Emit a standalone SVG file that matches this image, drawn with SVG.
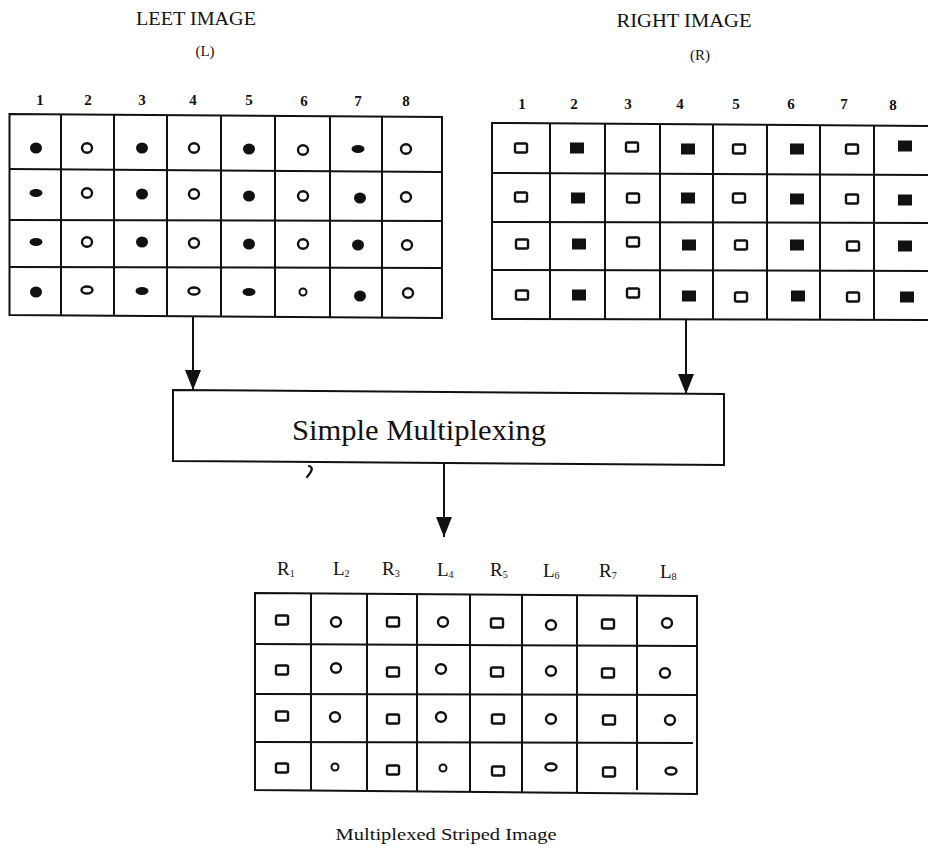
<svg xmlns="http://www.w3.org/2000/svg" xmlns:xlink="http://www.w3.org/1999/xlink" width="928" height="849" viewBox="0 0 928 849">
  <style>
    .title { font-family: "Liberation Serif", "Times New Roman", serif; fill: #111; }
    .num { font-family: "Liberation Serif", serif; font-weight: bold; font-size: 15px; fill: #111; text-anchor: middle; }
    .grid { fill: none; stroke: #111; stroke-width: 2; }
    .conn { stroke: #111; stroke-width: 2; fill: none; }
    .lab { font-family: "Liberation Serif", serif; font-size: 19px; fill: #111; }
    .sub { font-size: 10px; }
  </style>
  <defs>
    <!-- cell symbols -->
    <ellipse id="dot" cx="0" cy="0" rx="6" ry="5.5" fill="#111"/>
    <ellipse id="dotFlat" cx="0" cy="0" rx="6.5" ry="4" fill="#111"/>
    <ellipse id="ring" cx="0" cy="0" rx="5" ry="4.8" fill="none" stroke="#111" stroke-width="2.4"/>
    <ellipse id="ringFlat" cx="0" cy="0" rx="5.5" ry="3.5" fill="none" stroke="#111" stroke-width="2.4"/>
    <ellipse id="ringSmall" cx="0" cy="0" rx="3.5" ry="3.5" fill="none" stroke="#111" stroke-width="2"/>
    <rect id="box" x="-6" y="-4.5" width="12" height="9" rx="1.5" fill="none" stroke="#111" stroke-width="2.4"/>
    <rect id="block" x="-7" y="-5.5" width="14" height="11" fill="#111"/>
    <marker id="arrow" markerWidth="20" markerHeight="16" refX="20" refY="8" orient="auto" markerUnits="userSpaceOnUse" viewBox="0 0 20 16">
      <path d="M0,0 L20,8 L0,16 Z" fill="#111"/>
    </marker>
  </defs>

  <!-- Left image -->
  <g id="left-image">
    <text class="title" x="196" y="25" font-size="18" text-anchor="middle" textLength="120" lengthAdjust="spacingAndGlyphs">LEET IMAGE</text>
    <text class="title" x="205" y="56" font-size="15" text-anchor="middle">(L)</text>
    <g>
      <text class="num" x="40" y="105">1</text>
      <text class="num" x="88" y="105">2</text>
      <text class="num" x="142" y="105">3</text>
      <text class="num" x="193" y="105">4</text>
      <text class="num" x="249" y="105">5</text>
      <text class="num" x="304" y="106">6</text>
      <text class="num" x="358" y="106">7</text>
      <text class="num" x="406" y="106">8</text>
    </g>
    <path class="grid" d="M9.5,114 L442,117 L442,318 L9.5,315 Z"/>
    <path class="grid" d="M9.5,169 L442,172 M9.5,220 L442,221 M9.5,267 L442,268"/>
    <path class="grid" d="M61,114 V315 M114,115 V315 M167,115 V316 M221,116 V316 M275,116 V316 M330,117 V317 M382,117 V317"/>
    <use href="#dot" x="36" y="148"/>
    <use href="#ring" x="87" y="148"/>
    <use href="#dot" x="142" y="148"/>
    <use href="#ring" x="194" y="148"/>
    <use href="#dot" x="249" y="149"/>
    <use href="#ring" x="303" y="150"/>
    <use href="#dotFlat" x="358" y="149"/>
    <use href="#ring" x="406" y="149"/>

    <use href="#dotFlat" x="36" y="193"/>
    <use href="#ring" x="87" y="193"/>
    <use href="#dot" x="142" y="194"/>
    <use href="#ring" x="194" y="194"/>
    <use href="#dot" x="249" y="196"/>
    <use href="#ring" x="303" y="196"/>
    <use href="#dot" x="360" y="198"/>
    <use href="#ring" x="406" y="197"/>

    <use href="#dotFlat" x="36" y="242"/>
    <use href="#ring" x="87" y="242"/>
    <use href="#dot" x="142" y="242"/>
    <use href="#ring" x="194" y="243"/>
    <use href="#dot" x="249" y="244"/>
    <use href="#ring" x="303" y="244"/>
    <use href="#dot" x="358" y="245"/>
    <use href="#ring" x="407" y="245"/>

    <use href="#dot" x="36" y="292"/>
    <use href="#ringFlat" x="87" y="290"/>
    <use href="#dotFlat" x="142" y="291"/>
    <use href="#ringFlat" x="194" y="291"/>
    <use href="#dotFlat" x="249" y="292"/>
    <use href="#ringSmall" x="303" y="292"/>
    <use href="#dot" x="360" y="296"/>
    <use href="#ring" x="408" y="293"/>
  </g>

  <!-- Right image -->
  <g id="right-image">
    <text class="title" x="684" y="27" font-size="18" text-anchor="middle" textLength="135" lengthAdjust="spacingAndGlyphs">RIGHT IMAGE</text>
    <text class="title" x="700" y="60" font-size="15" text-anchor="middle">(R)</text>
    <g>
      <text class="num" x="522" y="109">1</text>
      <text class="num" x="574" y="109">2</text>
      <text class="num" x="628" y="109">3</text>
      <text class="num" x="680" y="109">4</text>
      <text class="num" x="736" y="109">5</text>
      <text class="num" x="791" y="109">6</text>
      <text class="num" x="844" y="109">7</text>
      <text class="num" x="893" y="110">8</text>
    </g>
    <path class="grid" d="M935,126 L492,123 L492,319 L935,320"/>
    <path class="grid" d="M492,173 L935,175 M492,222 L935,223 M492,270 L935,271"/>
    <path class="grid" d="M550,123 V319 M605,123 V319 M660,124 V319 M713,124 V319 M767,125 V320 M820,125 V320 M874,126 V320"/>
    <use href="#box" x="521" y="148"/>
    <use href="#block" x="577" y="148"/>
    <use href="#box" x="632" y="147"/>
    <use href="#block" x="688" y="149"/>
    <use href="#box" x="739" y="149"/>
    <use href="#block" x="797" y="149"/>
    <use href="#box" x="852" y="149"/>
    <use href="#block" x="905" y="146"/>

    <use href="#box" x="521" y="197"/>
    <use href="#block" x="578" y="198"/>
    <use href="#box" x="633" y="198"/>
    <use href="#block" x="688" y="198"/>
    <use href="#box" x="739" y="198"/>
    <use href="#block" x="797" y="199"/>
    <use href="#box" x="852" y="199"/>
    <use href="#block" x="905" y="200"/>

    <use href="#box" x="522" y="244"/>
    <use href="#block" x="579" y="244"/>
    <use href="#box" x="633" y="242"/>
    <use href="#block" x="689" y="245"/>
    <use href="#box" x="741" y="245"/>
    <use href="#block" x="797" y="245"/>
    <use href="#box" x="853" y="246"/>
    <use href="#block" x="905" y="246"/>

    <use href="#box" x="522" y="295"/>
    <use href="#block" x="579" y="295"/>
    <use href="#box" x="633" y="293"/>
    <use href="#block" x="689" y="296"/>
    <use href="#box" x="741" y="297"/>
    <use href="#block" x="798" y="296"/>
    <use href="#box" x="853" y="297"/>
    <use href="#block" x="907" y="297"/>
  </g>

  <!-- Multiplexer block -->
  <g id="multiplexer">
    <path class="grid" d="M173,390 L724,394 L724,465 L173,461 Z"/>
    <text class="title" x="419" y="440" font-size="30" text-anchor="middle" textLength="254" lengthAdjust="spacingAndGlyphs">Simple Multiplexing</text>
    <!-- small ink mark below the block -->
    <path d="M309,466 C313,467 313,470 307,477" fill="none" stroke="#111" stroke-width="2.2" stroke-linecap="round"/>
  </g>

  <!-- Striped output image -->
  <g id="striped-image">
    <g class="lab">
      <text x="277" y="575">R<tspan class="sub" dy="2">1</tspan></text>
      <text x="333" y="575">L<tspan class="sub" dy="2">2</tspan></text>
      <text x="382" y="575">R<tspan class="sub" dy="2">3</tspan></text>
      <text x="437" y="576">L<tspan class="sub" dy="2">4</tspan></text>
      <text x="490" y="576">R<tspan class="sub" dy="2">5</tspan></text>
      <text x="543" y="577">L<tspan class="sub" dy="2">6</tspan></text>
      <text x="599" y="577">R<tspan class="sub" dy="2">7</tspan></text>
      <text x="660" y="578">L<tspan class="sub" dy="2">8</tspan></text>
    </g>
    <path class="grid" d="M255,593 L697,596 L697,794 L255,790 Z"/>
    <path class="grid" d="M255,644 L697,646 M255,694 L697,695 M255,742 L693,743"/>
    <path class="grid" d="M311,593 V790 M367,594 V791 M417,594 V791 M470,594 V792 M522,595 V792 M577,595 V793 M637,595 V790"/>
    <use href="#box" x="282" y="620"/>
    <use href="#ring" x="336" y="622"/>
    <use href="#box" x="393" y="622"/>
    <use href="#ring" x="443" y="622"/>
    <use href="#box" x="497" y="623"/>
    <use href="#ring" x="551" y="625"/>
    <use href="#box" x="608" y="624"/>
    <use href="#ring" x="667" y="623"/>

    <use href="#box" x="282" y="670"/>
    <use href="#ring" x="336" y="668"/>
    <use href="#box" x="393" y="672"/>
    <use href="#ring" x="441" y="669"/>
    <use href="#box" x="497" y="672"/>
    <use href="#ring" x="551" y="671"/>
    <use href="#box" x="608" y="673"/>
    <use href="#ring" x="665" y="673"/>

    <use href="#box" x="282" y="716"/>
    <use href="#ring" x="335" y="717"/>
    <use href="#box" x="393" y="719"/>
    <use href="#ring" x="441" y="717"/>
    <use href="#box" x="498" y="719"/>
    <use href="#ring" x="551" y="719"/>
    <use href="#box" x="609" y="720"/>
    <use href="#ring" x="670" y="720"/>

    <use href="#box" x="282" y="768"/>
    <use href="#ringSmall" x="335" y="767"/>
    <use href="#box" x="393" y="770"/>
    <use href="#ringSmall" x="443" y="768"/>
    <use href="#box" x="498" y="771"/>
    <use href="#ringFlat" x="551" y="767"/>
    <use href="#box" x="609" y="772"/>
    <use href="#ringFlat" x="671" y="771"/>

    <text class="title" x="446" y="840" font-size="17" text-anchor="middle" textLength="221" lengthAdjust="spacingAndGlyphs">Multiplexed Striped Image</text>
  </g>

  <!-- Connectors -->
  <g id="connectors">
    <line class="conn" x1="193" y1="316" x2="193" y2="390" marker-end="url(#arrow)"/>
    <line class="conn" x1="686" y1="320" x2="686" y2="394" marker-end="url(#arrow)"/>
    <line class="conn" x1="444" y1="464" x2="444" y2="537" marker-end="url(#arrow)"/>
  </g>
</svg>
